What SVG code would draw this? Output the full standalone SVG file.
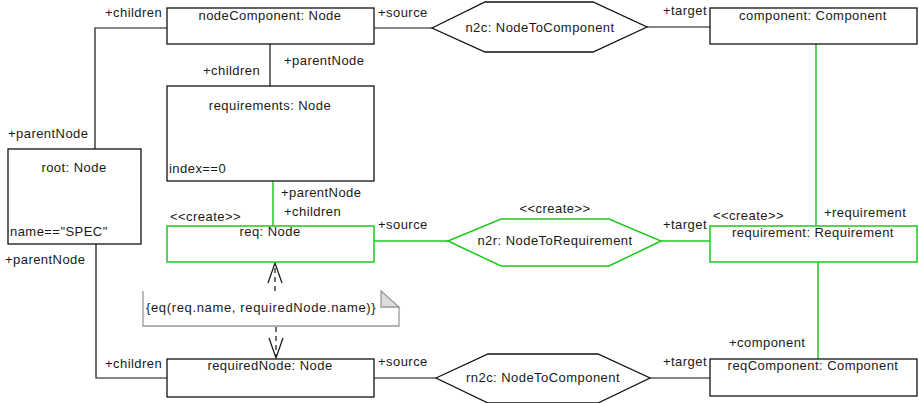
<svg xmlns="http://www.w3.org/2000/svg" width="919" height="403" viewBox="0 0 919 403">
<style>
text{font-family:"Liberation Sans",Arial,sans-serif;font-size:13px;fill:#1a1a1a;letter-spacing:0.45px}
.c{text-anchor:middle}
.box{fill:#fff;stroke:#111;stroke-width:1.3}
.gbox{fill:#fff;stroke:#1ec81e;stroke-width:1.5}
.ln{fill:none;stroke:#111;stroke-width:1.2}
.gln{fill:none;stroke:#1ec81e;stroke-width:1.5}
.dash{fill:none;stroke:#111;stroke-width:1.2;stroke-dasharray:5 4}
.arr{fill:none;stroke:#111;stroke-width:1.2}
</style>
<rect width="919" height="403" fill="#fff"/>
<g id="connectors">
  <polyline class="ln" points="95,149 95,28 167,28"/>
  <polyline class="ln" points="96,244 96,378 167,378"/>
  <line class="ln" x1="270" y1="44" x2="270" y2="86"/>
  <line class="ln" x1="374" y1="28" x2="432" y2="28"/>
  <line class="ln" x1="647" y1="27" x2="710" y2="27"/>
  <line class="gln" x1="816" y1="44" x2="816" y2="226"/>
  <line class="gln" x1="273" y1="181" x2="273" y2="226"/>
  <line class="gln" x1="374" y1="241" x2="448" y2="241"/>
  <line class="gln" x1="661" y1="241" x2="710" y2="241"/>
  <line class="gln" x1="818" y1="262" x2="818" y2="359"/>
  <line class="ln" x1="374" y1="378" x2="436" y2="378"/>
  <line class="ln" x1="650" y1="378" x2="710" y2="378"/>
  <line class="dash" x1="275" y1="291" x2="275" y2="264"/>
  <polyline class="arr" points="268,283 275,263 282,283"/>
  <line class="dash" x1="276" y1="327" x2="276" y2="357"/>
  <polyline class="arr" points="269,338 276,358 283,338"/>
  <text x="105" y="17">+children</text>
  <text x="8" y="138">+parentNode</text>
  <text x="5" y="264">+parentNode</text>
  <text x="105" y="368">+children</text>
  <text x="203" y="75">+children</text>
  <text x="284" y="65">+parentNode</text>
  <text x="378" y="17">+source</text>
  <text x="663" y="15">+target</text>
  <text x="824" y="217">+requirement</text>
  <text x="281" y="197">+parentNode</text>
  <text x="284" y="216">+children</text>
  <text x="378" y="229">+source</text>
  <text x="663" y="229">+target</text>
  <text x="729" y="347">+component</text>
  <text x="378" y="366">+source</text>
  <text x="663" y="366">+target</text>
</g>
<g id="nodeComponent">
  <rect class="box" x="167" y="8" width="207" height="36"/>
  <text class="c" x="270" y="20">nodeComponent: Node</text>
</g>
<g id="requirements">
  <rect class="box" x="167" y="86" width="207" height="95"/>
  <text class="c" x="270" y="110">requirements: Node</text>
  <text x="169" y="173">index==0</text>
</g>
<g id="root">
  <rect class="box" x="8" y="149" width="133" height="95"/>
  <text class="c" x="74" y="172">root: Node</text>
  <text x="10" y="236">name=="SPEC"</text>
</g>
<g id="n2c">
  <polygon class="box" points="432,28 485,2 593,2 647,27 593,52 485,52"/>
  <text class="c" x="540" y="32">n2c: NodeToComponent</text>
</g>
<g id="component">
  <rect class="box" x="710" y="8" width="207" height="36"/>
  <text class="c" x="813" y="20">component: Component</text>
</g>
<g id="req">
  <rect class="gbox" x="167" y="226" width="207" height="36"/>
  <text class="c" x="270" y="236">req: Node</text>
  <text x="170" y="221">&lt;&lt;create&gt;&gt;</text>
</g>
<g id="n2r">
  <polygon class="gbox" points="448,241 501,219 609,219 661,241 609,266 501,266"/>
  <text class="c" x="555" y="245">n2r: NodeToRequirement</text>
  <text class="c" x="555" y="213">&lt;&lt;create&gt;&gt;</text>
</g>
<g id="requirement">
  <rect class="gbox" x="710" y="226" width="207" height="36"/>
  <text class="c" x="813" y="237">requirement: Requirement</text>
  <text x="713" y="220">&lt;&lt;create&gt;&gt;</text>
</g>
<g id="note">
  <path d="M143,291 L143,326 L399,326 L399,307" fill="#fff" stroke="#999" stroke-width="1.3"/>
  <polygon points="381,291 381,307 399,307" fill="#ddd" stroke="#999" stroke-width="1.3"/>
  <text x="146" y="312" style="letter-spacing:0.65px">{eq(req.name, requiredNode.name)}</text>
</g>
<g id="requiredNode">
  <rect class="box" x="167" y="359" width="207" height="38"/>
  <text class="c" x="270" y="370">requiredNode: Node</text>
</g>
<g id="rn2c">
  <polygon class="box" points="436,378 488,354 598,354 650,378 598,403 488,403"/>
  <text class="c" x="543" y="382">rn2c: NodeToComponent</text>
</g>
<g id="reqComponent">
  <rect class="box" x="710" y="359" width="207" height="37"/>
  <text class="c" x="813" y="370">reqComponent: Component</text>
</g>
</svg>
